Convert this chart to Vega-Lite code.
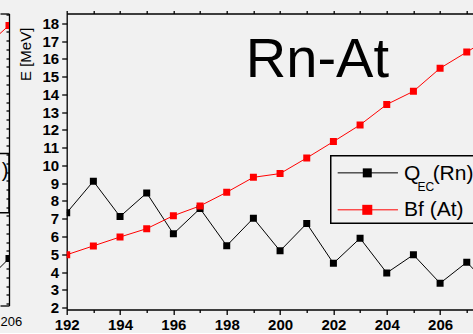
{
  "$schema": "https://vega.github.io/schema/vega-lite/v6.json",
  "background": "#f1f1f1",
  "padding": {"left": 0, "top": 9.5, "right": 0, "bottom": 0},
  "bounds": "flush",
  "spacing": 57.7,
  "config": {
    "font": "Liberation Sans",
    "view": {"stroke": null},
    "axis": {
      "grid": false,
      "domainColor": "#000000",
      "domainWidth": 1.3,
      "tickColor": "#000000",
      "tickWidth": 1.3,
      "labelColor": "#000000",
      "titleColor": "#000000",
      "labelFlush": false,
      "labelOverlap": false
    }
  },
  "datasets": {
    "rnAt": [
      {"A": 192, "series": "Q_EC(Rn)", "E": 7.33},
      {"A": 193, "series": "Q_EC(Rn)", "E": 9.11},
      {"A": 194, "series": "Q_EC(Rn)", "E": 7.12},
      {"A": 195, "series": "Q_EC(Rn)", "E": 8.45},
      {"A": 196, "series": "Q_EC(Rn)", "E": 6.15},
      {"A": 197, "series": "Q_EC(Rn)", "E": 7.57},
      {"A": 198, "series": "Q_EC(Rn)", "E": 5.48},
      {"A": 199, "series": "Q_EC(Rn)", "E": 7.03},
      {"A": 200, "series": "Q_EC(Rn)", "E": 5.19},
      {"A": 201, "series": "Q_EC(Rn)", "E": 6.73},
      {"A": 202, "series": "Q_EC(Rn)", "E": 4.49},
      {"A": 203, "series": "Q_EC(Rn)", "E": 5.9},
      {"A": 204, "series": "Q_EC(Rn)", "E": 3.95},
      {"A": 205, "series": "Q_EC(Rn)", "E": 4.97},
      {"A": 206, "series": "Q_EC(Rn)", "E": 3.37},
      {"A": 207, "series": "Q_EC(Rn)", "E": 4.55},
      {"A": 208, "series": "Q_EC(Rn)", "E": 3.0},
      {"A": 192, "series": "Bf (At)", "E": 4.97},
      {"A": 193, "series": "Bf (At)", "E": 5.47},
      {"A": 194, "series": "Bf (At)", "E": 5.97},
      {"A": 195, "series": "Bf (At)", "E": 6.44},
      {"A": 196, "series": "Bf (At)", "E": 7.17},
      {"A": 197, "series": "Bf (At)", "E": 7.72},
      {"A": 198, "series": "Bf (At)", "E": 8.49},
      {"A": 199, "series": "Bf (At)", "E": 9.33},
      {"A": 200, "series": "Bf (At)", "E": 9.54},
      {"A": 201, "series": "Bf (At)", "E": 10.42},
      {"A": 202, "series": "Bf (At)", "E": 11.34},
      {"A": 203, "series": "Bf (At)", "E": 12.28},
      {"A": 204, "series": "Bf (At)", "E": 13.43},
      {"A": 205, "series": "Bf (At)", "E": 14.17},
      {"A": 206, "series": "Bf (At)", "E": 15.47},
      {"A": 207, "series": "Bf (At)", "E": 16.38},
      {"A": 208, "series": "Bf (At)", "E": 17.3}
    ],
    "prevPanel": [
      {"A": 205, "series": "Q_EC(Rn)", "E": 3.06},
      {"A": 206, "series": "Q_EC(Rn)", "E": 4.57},
      {"A": 205, "series": "Bf (At)", "E": 16.5},
      {"A": 206, "series": "Bf (At)", "E": 17.87}
    ]
  },
  "hconcat": [
    {
      "width": 9,
      "height": 292,
      "layer": [
        {
          "data": {"name": "prevPanel"},
          "mark": {"type": "line", "clip": true, "strokeWidth": 1},
          "encoding": {
            "x": {
              "field": "A", "type": "quantitative",
              "scale": {"domain": [205.6625, 206], "nice": false, "zero": false},
              "axis": {"orient": "bottom", "values": [206], "format": "d", "title": null, "tickSize": 0, "labelFontSize": 13, "labelAlign": "left", "labelOffset": -9, "labelPadding": 10}
            },
            "y": {
              "field": "E", "type": "quantitative",
              "scale": {"domain": [1.89, 18.55], "nice": false, "zero": false},
              "axis": {"orient": "right", "title": null, "labels": false, "tickSize": -3,
                "values": [2, 2.5, 3, 3.5, 4, 4.5, 5, 5.5, 6, 6.5, 7, 7.5, 8, 8.5, 9, 9.5, 10, 10.5, 11, 11.5, 12, 12.5, 13, 13.5, 14, 14.5, 15, 15.5, 16, 16.5, 17, 17.5, 18, 18.5]}
            },
            "color": {"field": "series", "type": "nominal", "scale": {"domain": ["Q_EC(Rn)", "Bf (At)"], "range": ["#000000", "#ff0000"]}, "legend": null}
          }
        },
        {
          "data": {"name": "prevPanel"},
          "mark": {"type": "point", "shape": "square", "filled": true, "size": 49, "opacity": 1, "clip": true},
          "encoding": {
            "x": {"field": "A", "type": "quantitative", "axis": {"orient": "top", "title": null, "labels": false, "ticks": false}},
            "y": {"field": "E", "type": "quantitative", "axis": null},
            "color": {"field": "series", "type": "nominal", "legend": null}
          }
        },
        {
          "data": {"values": [{}]},
          "mark": {"type": "rect", "filled": false, "color": "#000000", "strokeWidth": 1.5, "clip": true},
          "encoding": {
            "x": {"datum": 205, "type": "quantitative", "axis": null},
            "x2": {"datum": 206},
            "y": {"datum": 10.56, "type": "quantitative", "axis": null},
            "y2": {"datum": 7.18}
          }
        },
        {
          "data": {"values": [{}]},
          "mark": {"type": "text", "fontSize": 20, "align": "right", "baseline": "alphabetic", "color": "#000000", "clip": true},
          "encoding": {
            "x": {"datum": 205.98, "type": "quantitative", "axis": null},
            "y": {"datum": 9.21, "type": "quantitative", "axis": null},
            "text": {"value": ")"}
          }
        }
      ],
      "resolve": {"axis": {"x": "independent", "y": "independent"}}
    },
    {
      "width": 407,
      "height": 296,
      "layer": [
        {
          "data": {"name": "rnAt"},
          "mark": {"type": "line", "clip": true, "strokeWidth": 1},
          "encoding": {
            "x": {
              "field": "A", "type": "quantitative",
              "scale": {"domain": [192, 207.26], "nice": false, "zero": false},
              "axis": {"orient": "bottom", "values": [192, 194, 196, 198, 200, 202, 204, 206], "format": "d", "title": null, "tickSize": 5, "labelFontSize": 15, "labelFontWeight": "bold", "labelPadding": 3}
            },
            "y": {
              "field": "E", "type": "quantitative",
              "scale": {"domain": [1.89, 18.55], "nice": false, "zero": false},
              "axis": {"orient": "left", "values": [2, 3, 4, 5, 6, 7, 8, 9, 10, 11, 12, 13, 14, 15, 16, 17, 18], "format": "d",
                "tickSize": 5, "labelFontSize": 15, "labelFontWeight": "bold", "labelPadding": 3,
                "title": "E [MeV]", "titleFontSize": 15, "titleFontWeight": "normal",
                "titlePadding": 9, "titleY": 40.3}
            },
            "color": {"field": "series", "type": "nominal", "scale": {"domain": ["Q_EC(Rn)", "Bf (At)"], "range": ["#000000", "#ff0000"]}, "legend": null}
          }
        },
        {
          "data": {"name": "rnAt"},
          "mark": {"type": "point", "shape": "square", "filled": true, "size": 49, "opacity": 1, "clip": true},
          "encoding": {
            "x": {"field": "A", "type": "quantitative",
              "axis": {"orient": "bottom", "values": [193, 195, 197, 199, 201, 203, 205, 207], "title": null, "labels": false, "domain": false, "tickSize": 3}},
            "y": {"field": "E", "type": "quantitative", "axis": null},
            "color": {"field": "series", "type": "nominal", "legend": null}
          }
        },
        {
          "data": {"values": [{}]},
          "mark": {"type": "text", "fontSize": 56, "align": "center", "baseline": "alphabetic", "color": "#000000"},
          "encoding": {
            "x": {"datum": 201.4, "type": "quantitative",
              "axis": {"orient": "top", "values": [192, 193, 194, 195, 196, 197, 198, 199, 200, 201, 202, 203, 204, 205, 206, 207], "title": null, "labels": false, "tickSize": 3}},
            "y": {"datum": 15.0, "type": "quantitative", "axis": null},
            "text": {"value": "Rn-At"}
          }
        },
        {
          "data": {"values": [{}]},
          "mark": {"type": "rect", "filled": false, "color": "#000000", "strokeWidth": 1.5, "clip": true},
          "encoding": {
            "x": {"datum": 201.9, "type": "quantitative", "axis": null},
            "x2": {"datum": 210},
            "y": {"datum": 10.55, "type": "quantitative", "axis": null},
            "y2": {"datum": 6.74}
          }
        },
        {
          "data": {"values": [{}]},
          "mark": {"type": "rule", "color": "#000000", "strokeWidth": 1},
          "encoding": {
            "x": {"datum": 202.16, "type": "quantitative", "axis": null},
            "x2": {"datum": 204.42},
            "y": {"datum": 9.58, "type": "quantitative", "axis": null}
          }
        },
        {
          "data": {"values": [{}]},
          "mark": {"type": "point", "shape": "square", "filled": true, "size": 81, "opacity": 1, "color": "#000000"},
          "encoding": {
            "x": {"datum": 203.27, "type": "quantitative", "axis": null},
            "y": {"datum": 9.58, "type": "quantitative", "axis": null}
          }
        },
        {
          "data": {"values": [{}]},
          "mark": {"type": "rule", "color": "#ff0000", "strokeWidth": 1},
          "encoding": {
            "x": {"datum": 202.16, "type": "quantitative", "axis": null},
            "x2": {"datum": 204.42},
            "y": {"datum": 7.5, "type": "quantitative", "axis": null}
          }
        },
        {
          "data": {"values": [{}]},
          "mark": {"type": "point", "shape": "square", "filled": true, "size": 100, "opacity": 1, "color": "#ff0000"},
          "encoding": {
            "x": {"datum": 203.27, "type": "quantitative", "axis": null},
            "y": {"datum": 7.5, "type": "quantitative", "axis": null}
          }
        },
        {
          "data": {"values": [{}]},
          "mark": {"type": "text", "fontSize": 21, "align": "left", "baseline": "alphabetic", "color": "#000000", "clip": true},
          "encoding": {
            "x": {"datum": 204.65, "type": "quantitative", "axis": null},
            "y": {"datum": 9.175, "type": "quantitative", "axis": null},
            "text": {"value": "Q"}
          }
        },
        {
          "data": {"values": [{}]},
          "mark": {"type": "text", "fontSize": 12, "align": "left", "baseline": "alphabetic", "color": "#000000", "clip": true},
          "encoding": {
            "x": {"datum": 205.15, "type": "quantitative", "axis": null},
            "y": {"datum": 8.55, "type": "quantitative", "axis": null},
            "text": {"value": "EC"}
          }
        },
        {
          "data": {"values": [{}]},
          "mark": {"type": "text", "fontSize": 21, "align": "left", "baseline": "alphabetic", "color": "#000000", "clip": true},
          "encoding": {
            "x": {"datum": 205.72, "type": "quantitative", "axis": null},
            "y": {"datum": 9.175, "type": "quantitative", "axis": null},
            "text": {"value": "(Rn)"}
          }
        },
        {
          "data": {"values": [{}]},
          "mark": {"type": "text", "fontSize": 21, "align": "left", "baseline": "alphabetic", "color": "#000000", "clip": true},
          "encoding": {
            "x": {"datum": 204.65, "type": "quantitative", "axis": null},
            "y": {"datum": 7.18, "type": "quantitative", "axis": null},
            "text": {"value": "Bf (At)"}
          }
        }
      ],
      "resolve": {"axis": {"x": "independent", "y": "independent"}}
    }
  ]
}
